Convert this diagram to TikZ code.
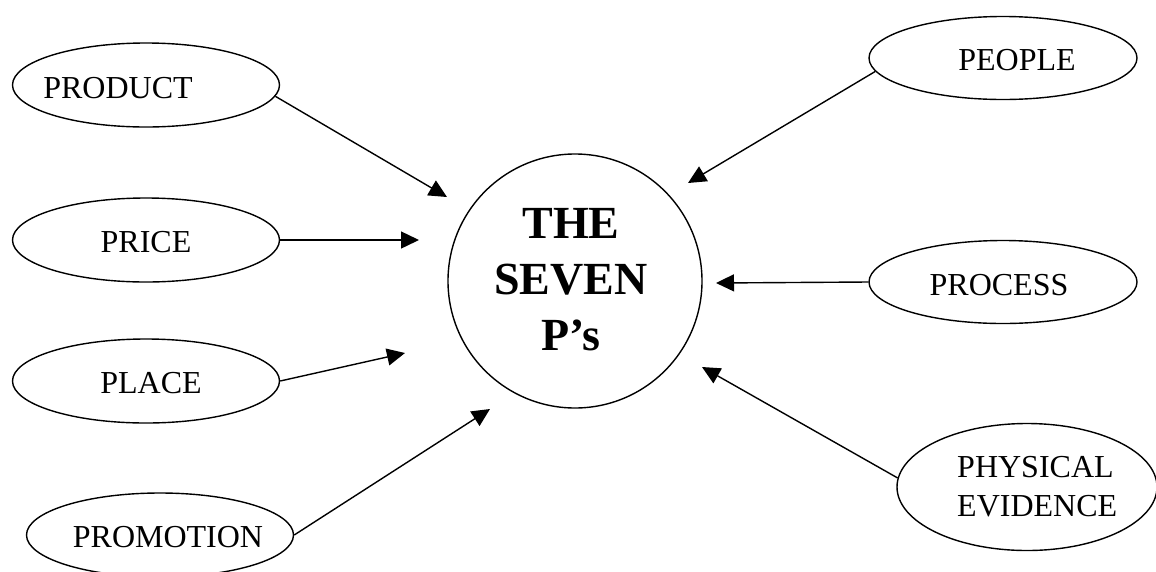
\documentclass[tikz,border=0pt]{standalone}
\usepackage{fontspec}
\setmainfont{Liberation Serif}
\usetikzlibrary{arrows.meta,shapes.geometric}
\begin{document}
\begin{tikzpicture}[x=1pt,y=-1pt,
  pell/.style={ellipse,draw,line width=1.4pt,minimum width=267pt,minimum height=84pt,inner sep=0pt},
  lbl/.style={anchor=base,inner sep=0pt,font=\fontsize{32}{39}\selectfont},
  conn/.style={line width=1.4pt,-{Triangle[length=18pt,width=17pt]}}]
\useasboundingbox (0,0) rectangle (1156,571);
% centre
\node[circle,draw,line width=1.4pt,minimum size=254pt,inner sep=0pt] (c) at (575,281) {};
\node[anchor=base,inner sep=0pt,align=center,font=\fontsize{46}{56}\selectfont\bfseries] (ct) at (571,350) {THE\\SEVEN\\P’s};
% ellipses
\node[pell] (prod) at (146,85) {};
\node[lbl] (prodt) at (118,98) {PRODUCT};
\node[pell] (price) at (146,240) {};
\node[lbl] (pricet) at (146,252) {PRICE};
\node[pell] (place) at (146,381) {};
\node[lbl] (placet) at (151,393) {PLACE};
\node[pell] (promo) at (160,535) {};
\node[lbl] (promot) at (168,547) {PROMOTION};
\node[pell,minimum width=268pt,minimum height=83pt] (people) at (1003,58) {};
\node[lbl] (peoplet) at (1017,70) {PEOPLE};
\node[pell,minimum width=268pt,minimum height=83pt] (process) at (1003,282) {};
\node[lbl] (processt) at (999,295) {PROCESS};
\node[pell,minimum width=260pt,minimum height=127pt] (phys) at (1027,487) {};
\node[lbl,anchor=base west,align=left] (physt) at (957,516) {PHYSICAL\\EVIDENCE};
% arrow tips
\coordinate (t1) at (447,197);
\coordinate (t2) at (419,240);
\coordinate (t3) at (405,353);
\coordinate (t4) at (490,409);
\coordinate (t5) at (688,183);
\coordinate (t6) at (716,283);
\coordinate (t7) at (702,367);
\draw[conn] (prod.-5) -- (t1);
\draw[conn] (price.east) -- (t2);
\draw[conn] (place.east) -- (t3);
\draw[conn] (promo.east) -- (t4);
\draw[conn] (people.186) -- (t5);
\draw[conn] (process.west) -- (t6);
\draw[conn] (phys.176) -- (t7);
\end{tikzpicture}
\end{document}
